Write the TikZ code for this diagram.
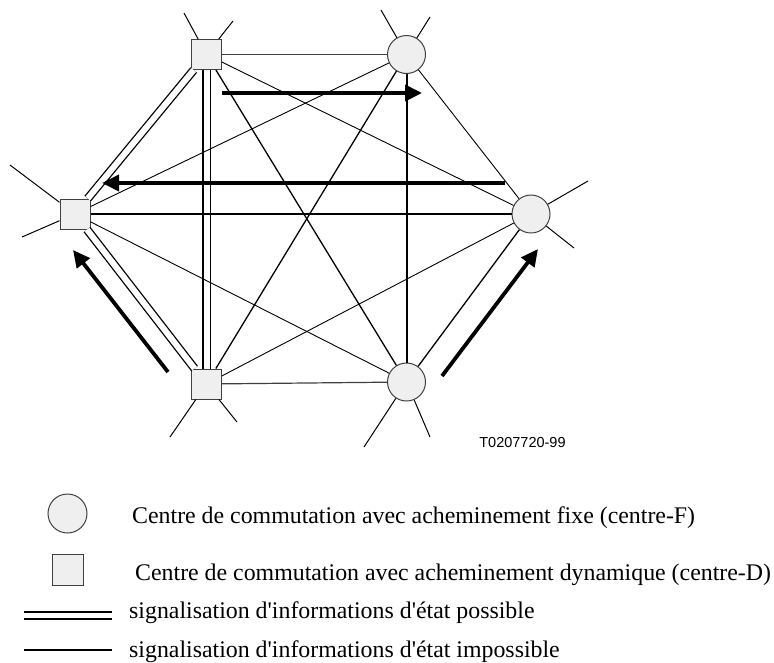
\documentclass[tikz,border=0pt]{standalone}
\usepackage{fontspec}
\setmainfont{Liberation Serif}
\newfontfamily\labelsans{Liberation Sans}
\usetikzlibrary{arrows.meta}
\definecolor{nodefill}{HTML}{EFEFEF}
\definecolor{nodeline}{HTML}{404040}
\newcommand{\apos}{\textquotesingle}
\begin{document}
\begin{tikzpicture}[x=1pt,y=-1pt,
  dcentre/.style={rectangle,draw=nodeline,fill=nodefill,line width=1pt,minimum size=30pt,inner sep=0pt},
  fcentre/.style={circle,draw=nodeline,fill=nodefill,line width=1pt,minimum size=38pt,inner sep=0pt},
  stub/.style={line width=1pt},
  thinlink/.style={line width=0.9pt},
  greylink/.style={line width=1.2pt,draw=nodeline},
  midlink/.style={line width=1.3pt},
  heavylink/.style={line width=2pt},
  dlink/.style={double,double distance=6pt,line width=1.3pt},
  flow/.style={line width=3.8pt,-{Triangle[length=17pt,width=16pt]}},
  legendtext/.style={anchor=base west,inner sep=0pt,font=\fontsize{23.85}{28}\selectfont},
]
\useasboundingbox (0,0) rectangle (774,662);

% switching centres: squares = dynamic routing, circles = fixed routing
\node[dcentre] (dTL) at (206.5,54.5) {};
\node[fcentre] (fTR) at (406.5,54.5) {};
\node[dcentre] (dL)  at (75,214) {};
\node[fcentre] (fR)  at (531,214) {};
\node[dcentre] (dBL) at (206.5,384) {};
\node[fcentre] (fBR) at (406.5,382) {};

% outgoing stubs
\coordinate (sTLa) at (184,13);  \coordinate (sTLb) at (233,21);
\coordinate (sTRa) at (381,10);  \coordinate (sTRb) at (430,17);
\coordinate (sLa)  at (10,165);  \coordinate (sLb)  at (22,237);
\coordinate (sRa)  at (588,181); \coordinate (sRb)  at (574,248);
\coordinate (sBLa) at (170,437); \coordinate (sBLb) at (237,422);
\coordinate (sBRa) at (364,447); \coordinate (sBRb) at (430,437);
\foreach \n/\a/\b in {dTL/sTLa/sTLb,fTR/sTRa/sTRb,dL/sLa/sLb,fR/sRa/sRb,dBL/sBLa/sBLb,fBR/sBRa/sBRb}{
  \draw[stub] (\n) -- (\a);
  \draw[stub] (\n) -- (\b);
}

% links between dynamic centres (status information possible)
\draw[dlink] (dTL) -- (dL);
\draw[dlink] (dTL) -- (dBL);
\draw[dlink] (dL) -- (dBL);

% remaining links (status information impossible)
\draw[greylink] (dTL) -- (fTR);
\draw[greylink] (dBL) -- (fBR);
\draw[thinlink] (dTL) -- (fR);
\draw[thinlink] (dL) -- (fTR);
\draw[thinlink] (dL) -- (fBR);
\draw[thinlink] (dBL) -- (fR);
\draw[thinlink] (fTR) -- (fR);
\draw[midlink] (fR) -- (fBR);
\draw[midlink] (dTL) -- (fBR);
\draw[midlink] (dBL) -- (fTR);
\draw[heavylink] (fTR) -- (fBR);
\draw[heavylink] (dL) -- (fR);

% direction of the status information flow
\coordinate (a1s) at (222,93);  \coordinate (a1e) at (422,93);
\coordinate (a2s) at (505,183); \coordinate (a2e) at (102,183);
\coordinate (a3s) at (168,372); \coordinate (a3e) at (73,250);
\coordinate (a4s) at (442,376); \coordinate (a4e) at (538,249);
\draw[flow] (a1s) -- (a1e);
\draw[flow] (a2s) -- (a2e);
\draw[flow] (a3s) -- (a3e);
\draw[flow] (a4s) -- (a4e);

\node[font=\labelsans\fontsize{14.5}{16}\selectfont,inner sep=0pt] (ref) at (522.5,442.5) {T0207720-99};

% legend
\node[fcentre,minimum size=39pt] (lgF) at (67.5,513.5) {};
\node[dcentre,minimum size=31pt] (lgD) at (67.5,569.5) {};
\coordinate (lgPa) at (24,615.5); \coordinate (lgPb) at (112,615.5);
\coordinate (lgIa) at (24,650);   \coordinate (lgIb) at (112,650);
\draw[line width=2pt,double,double distance=5pt] (lgPa) -- (lgPb);
\draw[line width=2.2pt] (lgIa) -- (lgIb);
\node[legendtext] (txF) at (132,523) {Centre de commutation avec acheminement fixe (centre-F)};
\node[legendtext] (txD) at (135,580) {Centre de commutation avec acheminement dynamique (centre-D)};
\node[legendtext] (txP) at (129,618) {signalisation d\apos informations d\apos état possible};
\node[legendtext] (txI) at (129,657) {signalisation d\apos informations d\apos état impossible};
\end{tikzpicture}
\end{document}
